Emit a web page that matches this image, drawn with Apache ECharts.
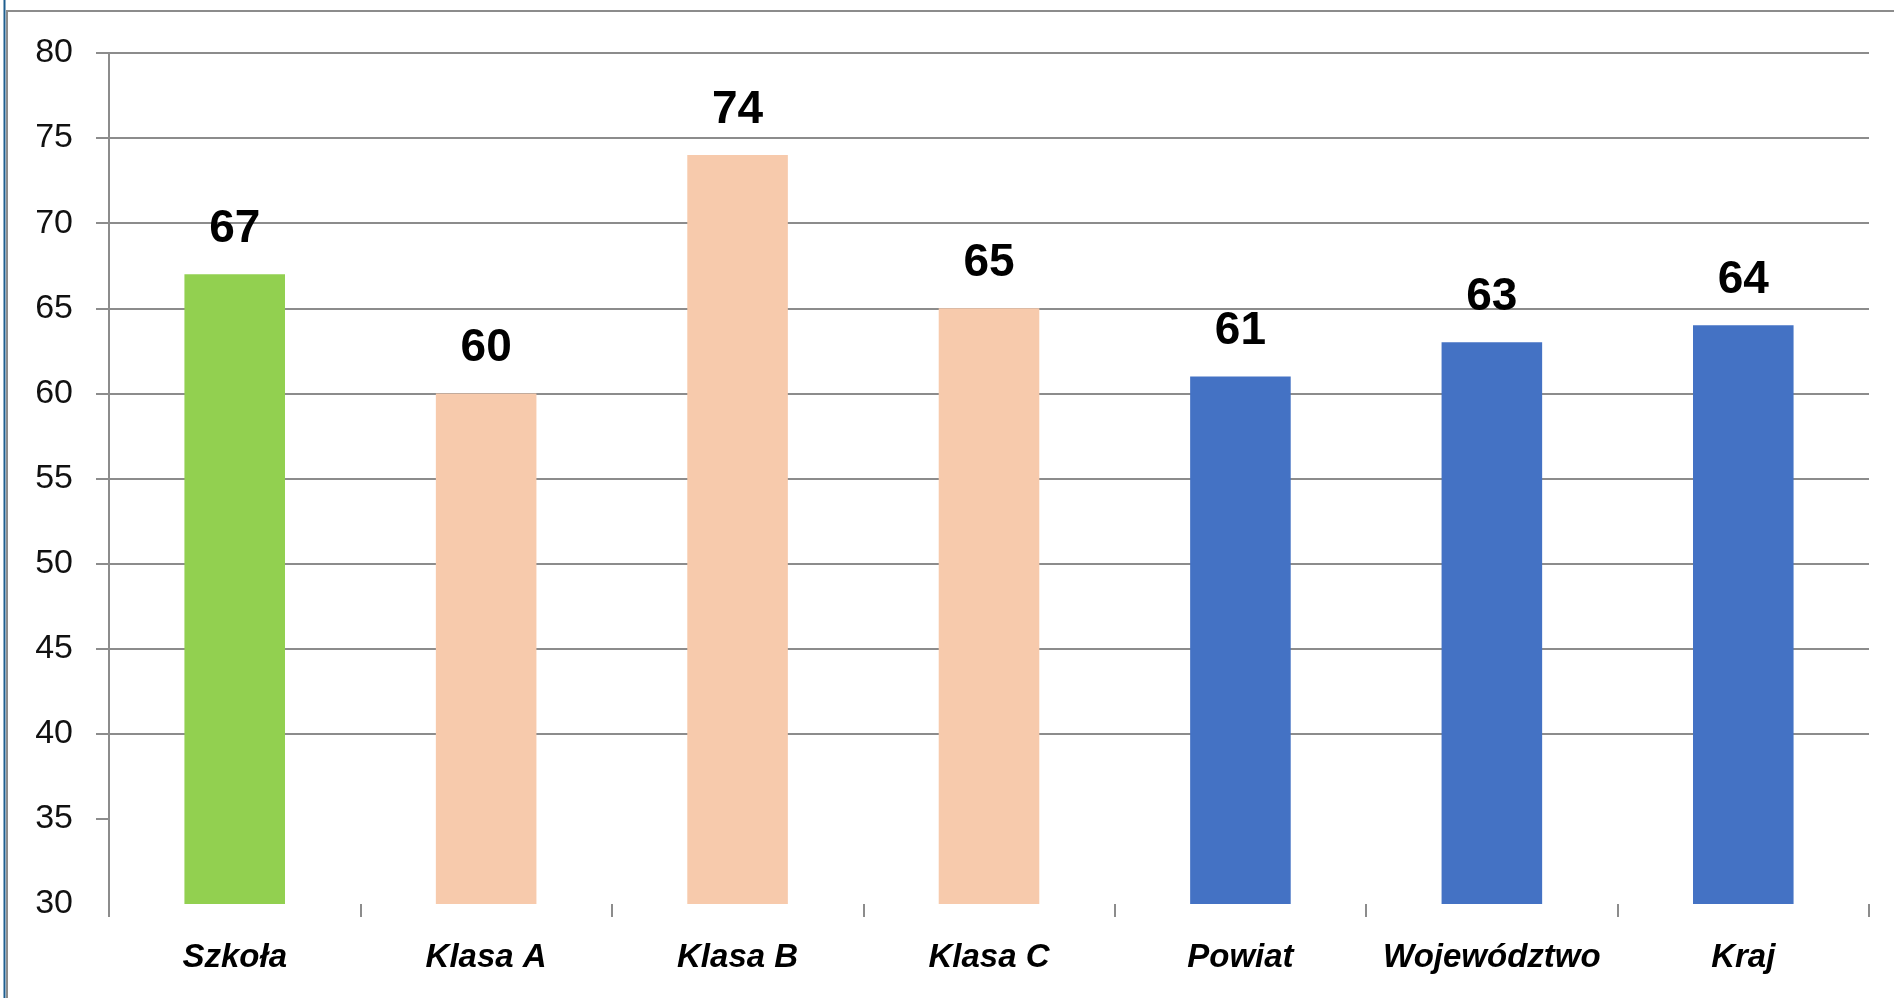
<!DOCTYPE html>
<html>
<head>
<meta charset="utf-8">
<script src="https://cdn.jsdelivr.net/npm/echarts@6/dist/echarts.min.js"></script>
<style>
html,body{margin:0;padding:0;background:#fff;}
#chart{width:1894px;height:998px;}
</style>
</head>
<body>
<div id="chart"></div>
<script>
const categories = ['Szkoła', 'Klasa A', 'Klasa B', 'Klasa C', 'Powiat', 'Województwo', 'Kraj'];
const values = [67, 60, 74, 65, 61, 63, 64];
const barColors = ['#92d050', '#f7caac', '#f7caac', '#f7caac', '#4472c4', '#4472c4', '#4472c4'];
const yTicks = [30, 35, 40, 45, 50, 55, 60, 65, 70, 75, 80];

const chart = echarts.init(document.getElementById('chart'));
const gridColor = '#8c8c8c';
const splitColors = yTicks.map((v, i) => i === 0 ? 'rgba(0,0,0,0)' : gridColor);

chart.setOption({
  animation: false,
  backgroundColor: '#ffffff',
  graphic: [
    { type: 'rect', shape: { x: 7, y: 11, width: 2000, height: 2000 }, style: { fill: 'none', stroke: gridColor, lineWidth: 2 }, z: 0 },
    { type: 'line', shape: { x1: 4.5, y1: 0, x2: 4.5, y2: 998 }, style: { stroke: '#1f5f8f', lineWidth: 2 }, z: 0 }
  ],
  grid: { left: 109, right: 25, top: 53, bottom: 94, containLabel: false },
  xAxis: {
    type: 'category',
    data: categories,
    axisLine: { show: false },
    axisTick: { show: true, length: 13, alignWithLabel: false, lineStyle: { color: gridColor, width: 2 } },
    axisLabel: {
      margin: 37,
      interval: 0,
      color: '#000',
      fontFamily: 'Liberation Sans, Arial, sans-serif',
      fontWeight: 'bold',
      fontStyle: 'italic',
      fontSize: 33
    },
    splitLine: { show: false }
  },
  yAxis: {
    type: 'value',
    min: 30,
    max: 80,
    interval: 5,
    axisLine: { show: true, lineStyle: { color: gridColor, width: 2 } },
    axisTick: { show: true, length: 13, customValues: yTicks.slice(1), lineStyle: { color: gridColor, width: 2 } },
    axisLabel: {
      margin: 36,
      color: '#111',
      fontFamily: 'Liberation Sans, Arial, sans-serif',
      fontSize: 34
    },
    splitLine: { show: true, lineStyle: { color: splitColors, width: 2 } }
  },
  series: [{
    type: 'bar',
    barCategoryGap: '60%',
    data: values.map((v, i) => ({ value: v, itemStyle: { color: barColors[i] } })),
    label: {
      show: true,
      position: 'top',
      distance: 22,
      color: '#000',
      fontFamily: 'Liberation Sans, Arial, sans-serif',
      fontWeight: 'bold',
      fontSize: 46
    }
  }]
});
</script>
</body>
</html>
